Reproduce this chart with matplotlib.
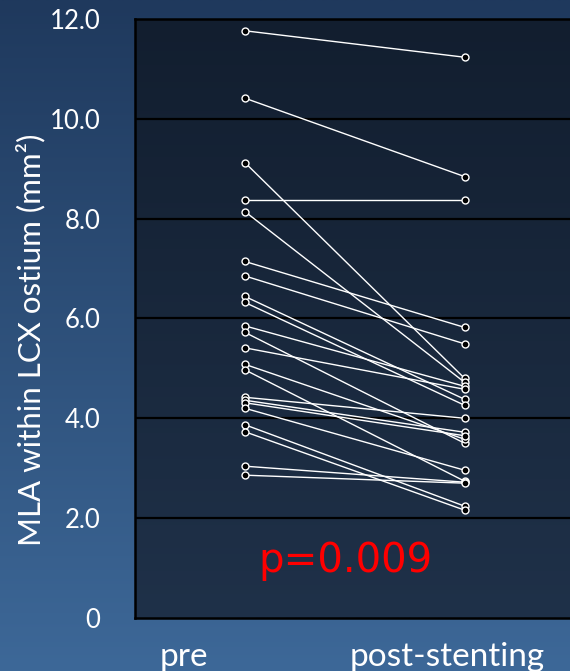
import numpy as np
import matplotlib
matplotlib.use('Agg')
import matplotlib.pyplot as plt
from matplotlib.colors import LinearSegmentedColormap

# paired MLA values (mm^2), one entry per patient
pre = [11.76, 10.41, 9.12, 8.37, 8.14, 7.14, 6.85, 6.44, 6.32, 5.85, 5.72,
       5.41, 5.08, 4.97, 4.42, 4.36, 4.31, 4.20, 3.87, 3.73, 3.04, 2.86]
post = [11.23, 8.84, 4.80, 8.37, 4.72, 5.82, 5.49, 4.38, 4.26, 4.64, 3.50,
        4.58, 3.58, 2.74, 4.00, 3.72, 3.65, 2.96, 2.24, 2.16, 2.72, 2.70]
groups = ['pre', 'post-stenting']
yticks = [0, 2, 4, 6, 8, 10, 12]
yticklabels = ['0', '2.0', '4.0', '6.0', '8.0', '10.0', '12.0']
pvalue = 'p=0.009'

plt.rcParams['font.family'] = ['Lato', 'DejaVu Sans']

fig = plt.figure(figsize=(5.7, 6.71), dpi=100)

# slide background: vertical blue gradient
bg = fig.add_axes([0, 0, 1, 1], zorder=-10)
bg_cmap = LinearSegmentedColormap.from_list('bg', ['#1f395d', '#3d6898'])
bg.imshow(np.linspace(0, 1, 256).reshape(-1, 1), aspect='auto', cmap=bg_cmap,
          extent=[0, 1, 0, 1], origin='upper')
bg.set_axis_off()

ax = fig.add_axes([0.237, 0.079, 0.79, 0.893])
ax.set_xlim(-0.5, 1.55)
ax.set_ylim(0, 12)

# plot area gradient
face_cmap = LinearSegmentedColormap.from_list('face', ['#121e2f', '#1f3149'])
ax.imshow(np.linspace(0, 1, 256).reshape(-1, 1), aspect='auto', cmap=face_cmap,
          extent=[-0.5, 1.55, 0, 12], origin='upper', zorder=0)

for y in yticks[1:-1]:
    ax.axhline(y, color='black', lw=1.6, zorder=1)

for a, b in zip(pre, post):
    ax.plot([0, 1], [a, b], color='white', lw=1.0, zorder=2,
            marker='o', markersize=5, markerfacecolor='black',
            markeredgecolor='white', markeredgewidth=1.0)

for sp in ax.spines.values():
    sp.set_color('black')
    sp.set_linewidth(1.8)

ax.set_yticks(yticks)
ax.set_yticklabels(yticklabels, fontsize=18.5, color='white')
ax.set_xticks([-0.28, 0.923])
ax.set_xticklabels(groups, fontsize=24, color='white')
ax.tick_params(axis='y', length=0, pad=25)
ax.tick_params(axis='x', length=0, pad=17)
ax.set_ylabel('MLA within LCX ostium (mm²)', fontsize=22.5, color='white')
ax.yaxis.set_label_coords(-0.198, 0.465)

ax.text(0.46, 1.15, pvalue, color='#ff0000', fontsize=29,
        family='DejaVu Sans', ha='center', va='center')

fig.savefig('out.png', dpi=100)
